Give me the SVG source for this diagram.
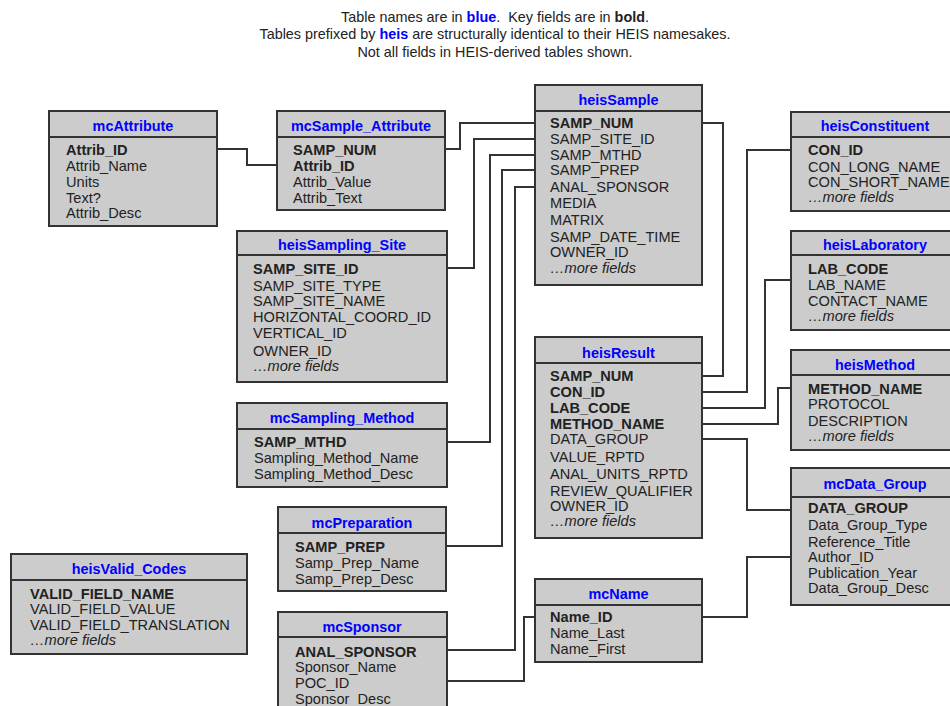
<svg xmlns="http://www.w3.org/2000/svg" width="950" height="706" viewBox="0 0 950 706">
<style>
  .box{fill:#cccccc;stroke:#333333;stroke-width:2}
  .sep{stroke:#333333;stroke-width:2}
  .title{font-family:"Liberation Sans",Arial,sans-serif;font-size:14.4px;font-weight:bold;fill:#0000ff;text-anchor:middle}
  .f{font-family:"Liberation Sans",Arial,sans-serif;font-size:14.6px;fill:#222222}
  .k{font-weight:bold}
  .m{font-style:italic}
  .hdr{font-family:"Liberation Sans",Arial,sans-serif;font-size:14.4px;fill:#222222;text-anchor:middle}
  .blue{fill:#0000ff;font-weight:bold}
  .conn{fill:none;stroke:#333333;stroke-width:2}
</style>
<rect x="0" y="0" width="950" height="706" fill="#ffffff"/>
<g id="header">
  <text class="hdr" x="495" y="22" xml:space="preserve">Table names are in <tspan class="blue">blue</tspan>.  Key fields are in <tspan font-weight="bold">bold</tspan>.</text>
  <text class="hdr" x="495" y="39">Tables prefixed by <tspan class="blue">heis</tspan> are structurally identical to their HEIS namesakes.</text>
  <text class="hdr" x="495" y="57">Not all fields in HEIS-derived tables shown.</text>
</g>
<g id="connectors">
  <path class="conn" d="M217,149 H247 V165 H277"/>
  <path class="conn" d="M445,149 H460 V123 H535"/>
  <path class="conn" d="M447,268 H474 V139 H535"/>
  <path class="conn" d="M447,442 H490 V155 H535"/>
  <path class="conn" d="M446,546 H502 V170 H535"/>
  <path class="conn" d="M447,650 H515 V187 H535"/>
  <path class="conn" d="M447,681 H524 V617 H535"/>
  <path class="conn" d="M702,617 H747 V557 H791"/>
  <path class="conn" d="M702,123 H723 V376 H702"/>
  <path class="conn" d="M702,392 H747 V150 H791"/>
  <path class="conn" d="M702,408 H765 V280 H791"/>
  <path class="conn" d="M702,424 H778 V388 H791"/>
  <path class="conn" d="M702,439 H747 V510 H791"/>
</g>
<g id="mcAttribute">
  <rect class="box" x="49" y="111" width="168" height="115"/>
  <line class="sep" x1="49" y1="137" x2="217" y2="137"/>
  <text class="title" x="133" y="131">mcAttribute</text>
  <text class="f k" x="66" y="155">Attrib_ID</text>
  <text class="f" x="66" y="171">Attrib_Name</text>
  <text class="f" x="66" y="187">Units</text>
  <text class="f" x="66" y="203">Text?</text>
  <text class="f" x="66" y="218">Attrib_Desc</text>
</g>
<g id="mcSample_Attribute">
  <rect class="box" x="277" y="111" width="168" height="99"/>
  <line class="sep" x1="277" y1="137" x2="445" y2="137"/>
  <text class="title" x="361" y="131">mcSample_Attribute</text>
  <text class="f k" x="293" y="155">SAMP_NUM</text>
  <text class="f k" x="293" y="171">Attrib_ID</text>
  <text class="f" x="293" y="187">Attrib_Value</text>
  <text class="f" x="293" y="203">Attrib_Text</text>
</g>
<g id="heisSample">
  <rect class="box" x="535" y="85" width="167" height="200"/>
  <line class="sep" x1="535" y1="111" x2="702" y2="111"/>
  <text class="title" x="618.5" y="105">heisSample</text>
  <text class="f k" x="550" y="128">SAMP_NUM</text>
  <text class="f" x="550" y="144">SAMP_SITE_ID</text>
  <text class="f" x="550" y="160">SAMP_MTHD</text>
  <text class="f" x="550" y="175">SAMP_PREP</text>
  <text class="f" x="550" y="192">ANAL_SPONSOR</text>
  <text class="f" x="550" y="208">MEDIA</text>
  <text class="f" x="550" y="225">MATRIX</text>
  <text class="f" x="550" y="242">SAMP_DATE_TIME</text>
  <text class="f" x="550" y="257">OWNER_ID</text>
  <text class="f m" x="550" y="273">…more fields</text>
</g>
<g id="heisSampling_Site">
  <rect class="box" x="237" y="231" width="210" height="151"/>
  <line class="sep" x1="237" y1="255" x2="447" y2="255"/>
  <text class="title" x="342" y="250">heisSampling_Site</text>
  <text class="f k" x="253" y="274">SAMP_SITE_ID</text>
  <text class="f" x="253" y="291">SAMP_SITE_TYPE</text>
  <text class="f" x="253" y="306">SAMP_SITE_NAME</text>
  <text class="f" x="253" y="322">HORIZONTAL_COORD_ID</text>
  <text class="f" x="253" y="338">VERTICAL_ID</text>
  <text class="f" x="253" y="356">OWNER_ID</text>
  <text class="f m" x="253" y="371">…more fields</text>
</g>
<g id="mcSampling_Method">
  <rect class="box" x="237" y="403" width="210" height="84"/>
  <line class="sep" x1="237" y1="429" x2="447" y2="429"/>
  <text class="title" x="342" y="423">mcSampling_Method</text>
  <text class="f k" x="254" y="447">SAMP_MTHD</text>
  <text class="f" x="254" y="463">Sampling_Method_Name</text>
  <text class="f" x="254" y="479">Sampling_Method_Desc</text>
</g>
<g id="mcPreparation">
  <rect class="box" x="278" y="507" width="168" height="84"/>
  <line class="sep" x1="278" y1="533" x2="446" y2="533"/>
  <text class="title" x="362" y="528">mcPreparation</text>
  <text class="f k" x="295" y="552">SAMP_PREP</text>
  <text class="f" x="295" y="568">Samp_Prep_Name</text>
  <text class="f" x="295" y="584">Samp_Prep_Desc</text>
</g>
<g id="mcSponsor">
  <rect class="box" x="278" y="612" width="169" height="110"/>
  <line class="sep" x1="278" y1="637" x2="447" y2="637"/>
  <text class="title" x="362" y="632">mcSponsor</text>
  <text class="f k" x="295" y="657">ANAL_SPONSOR</text>
  <text class="f" x="295" y="672">Sponsor_Name</text>
  <text class="f" x="295" y="688">POC_ID</text>
  <text class="f" x="295" y="704">Sponsor_Desc</text>
</g>
<g id="heisValid_Codes">
  <rect class="box" x="11" y="554" width="236" height="100"/>
  <line class="sep" x1="11" y1="580" x2="247" y2="580"/>
  <text class="title" x="129" y="574">heisValid_Codes</text>
  <text class="f k" x="30" y="599">VALID_FIELD_NAME</text>
  <text class="f" x="30" y="614">VALID_FIELD_VALUE</text>
  <text class="f" x="30" y="630">VALID_FIELD_TRANSLATION</text>
  <text class="f m" x="30" y="645">…more fields</text>
</g>
<g id="heisResult">
  <rect class="box" x="535" y="337" width="167" height="201"/>
  <line class="sep" x1="535" y1="363" x2="702" y2="363"/>
  <text class="title" x="618.5" y="358">heisResult</text>
  <text class="f k" x="550" y="381">SAMP_NUM</text>
  <text class="f k" x="550" y="397">CON_ID</text>
  <text class="f k" x="550" y="413">LAB_CODE</text>
  <text class="f k" x="550" y="429">METHOD_NAME</text>
  <text class="f" x="550" y="444">DATA_GROUP</text>
  <text class="f" x="550" y="462">VALUE_RPTD</text>
  <text class="f" x="550" y="479">ANAL_UNITS_RPTD</text>
  <text class="f" x="550" y="496">REVIEW_QUALIFIER</text>
  <text class="f" x="550" y="511">OWNER_ID</text>
  <text class="f m" x="550" y="526">…more fields</text>
</g>
<g id="mcName">
  <rect class="box" x="535" y="579" width="167" height="83"/>
  <line class="sep" x1="535" y1="605" x2="702" y2="605"/>
  <text class="title" x="618.5" y="599">mcName</text>
  <text class="f k" x="550" y="622">Name_ID</text>
  <text class="f" x="550" y="638">Name_Last</text>
  <text class="f" x="550" y="654">Name_First</text>
</g>
<g id="heisConstituent">
  <rect class="box" x="791" y="112" width="170" height="99"/>
  <line class="sep" x1="791" y1="137" x2="961" y2="137"/>
  <text class="title" x="875" y="131">heisConstituent</text>
  <text class="f k" x="808" y="155">CON_ID</text>
  <text class="f" x="808" y="172">CON_LONG_NAME</text>
  <text class="f" x="808" y="187">CON_SHORT_NAME</text>
  <text class="f m" x="808" y="202">…more fields</text>
</g>
<g id="heisLaboratory">
  <rect class="box" x="791" y="231" width="170" height="99"/>
  <line class="sep" x1="791" y1="255" x2="961" y2="255"/>
  <text class="title" x="875" y="250">heisLaboratory</text>
  <text class="f k" x="808" y="274">LAB_CODE</text>
  <text class="f" x="808" y="290">LAB_NAME</text>
  <text class="f" x="808" y="306">CONTACT_NAME</text>
  <text class="f m" x="808" y="321">…more fields</text>
</g>
<g id="heisMethod">
  <rect class="box" x="791" y="350" width="170" height="100"/>
  <line class="sep" x1="791" y1="375" x2="961" y2="375"/>
  <text class="title" x="875" y="370">heisMethod</text>
  <text class="f k" x="808" y="394">METHOD_NAME</text>
  <text class="f" x="808" y="409">PROTOCOL</text>
  <text class="f" x="808" y="426">DESCRIPTION</text>
  <text class="f m" x="808" y="441">…more fields</text>
</g>
<g id="mcData_Group">
  <rect class="box" x="791" y="468" width="170" height="137"/>
  <line class="sep" x1="791" y1="497" x2="961" y2="497"/>
  <text class="title" x="875" y="489">mcData_Group</text>
  <text class="f k" x="808" y="513">DATA_GROUP</text>
  <text class="f" x="808" y="530">Data_Group_Type</text>
  <text class="f" x="808" y="547">Reference_Title</text>
  <text class="f" x="808" y="562">Author_ID</text>
  <text class="f" x="808" y="578">Publication_Year</text>
  <text class="f" x="808" y="593">Data_Group_Desc</text>
</g>
</svg>
